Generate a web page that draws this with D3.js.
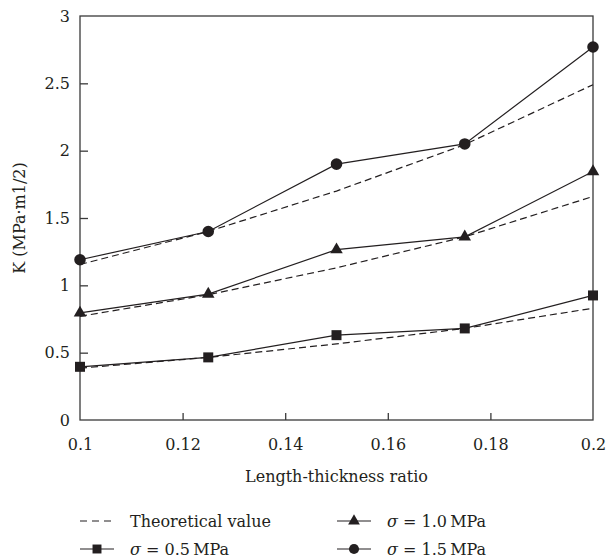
<!DOCTYPE html>
<html>
<head>
<meta charset="utf-8">
<script src="https://cdn.jsdelivr.net/npm/d3@7"></script>
<style>
  body { margin: 0; background: #fff; }
</style>
</head>
<body>
<div id="chart"></div>
<script>
// data
var ratios = [0.1, 0.125, 0.15, 0.175, 0.2];
var theo05 = [0.385, 0.465, 0.565, 0.68, 0.83];
var theo10 = [0.77, 0.93, 1.13, 1.36, 1.66];
var theo15 = [1.155, 1.40, 1.70, 2.045, 2.49];
var sig05 = [0.395, 0.465, 0.63, 0.68, 0.925];
var sig10 = [0.795, 0.935, 1.265, 1.36, 1.845];
var sig15 = [1.19, 1.40, 1.90, 2.05, 2.77];
var xTicks = [0.1, 0.12, 0.14, 0.16, 0.18, 0.2];
var yTicks = [0, 0.5, 1, 1.5, 2, 2.5, 3];

var W = 607, H = 559;
var margin = {top: 16, right: 14, bottom: 139, left: 80};
var width = W - margin.left - margin.right,
    height = H - margin.top - margin.bottom;
var ink = "#231f20";
var serif = "DejaVu Serif";

var svg = d3.select("#chart").append("svg")
    .attr("width", W)
    .attr("height", H)
    .style("font-family", serif);
var g = svg.append("g")
    .attr("transform", "translate(" + margin.left + "," + margin.top + ")");

var x = d3.scaleLinear().domain([0.1, 0.2]).range([0, width]);
var y = d3.scaleLinear().domain([0, 3]).range([height, 0]);

// frame
g.append("rect")
    .attr("width", width).attr("height", height)
    .attr("fill", "none").attr("stroke", "#3a3a3a").attr("stroke-width", 1.3);

// axes, ticks pointing inward
var xAxis = g.append("g")
    .attr("transform", "translate(0," + height + ")")
    .call(d3.axisBottom(x).tickValues(xTicks).tickSize(-7).tickPadding(19)
        .tickFormat(function(d) { return +d.toFixed(2); }));
var yAxis = g.append("g")
    .call(d3.axisLeft(y).tickValues(yTicks).tickSize(-8).tickPadding(10)
        .tickFormat(function(d) { return d; }));
[xAxis, yAxis].forEach(function(a) {
    a.attr("font-family", null).attr("font-size", 16);
    a.select(".domain").remove();
    a.selectAll("line").attr("stroke", "#3a3a3a").attr("stroke-width", 1.3);
    a.selectAll("text").attr("fill", ink).style("font-family", serif);
});
xAxis.selectAll(".tick line").filter(function(d) { return d == 0.1 || d == 0.2; }).remove();
yAxis.selectAll(".tick line").filter(function(d) { return d == 0 || d == 3; }).remove();

// axis titles
g.append("text")
    .attr("x", width / 2).attr("y", height + 62)
    .attr("text-anchor", "middle")
    .attr("font-size", 16).attr("fill", ink)
    .text("Length-thickness ratio");
g.append("text")
    .attr("transform", "rotate(-90)")
    .attr("x", -height / 2).attr("y", -55)
    .attr("text-anchor", "middle")
    .attr("font-size", 16).attr("fill", ink)
    .text("K (MPa\u00b7m1/2)");

var line = d3.line()
    .x(function(d, i) { return x(ratios[i]); })
    .y(function(d) { return y(d); });

// theoretical dashed lines
[theo05, theo10, theo15].forEach(function(s) {
    g.append("path").datum(s)
        .attr("d", line)
        .attr("fill", "none").attr("stroke", ink)
        .attr("stroke-width", 1.2).attr("stroke-dasharray", "7,4");
});

// measured lines
var series = [
    {vals: sig05, shape: d3.symbolSquare, size: 100},
    {vals: sig10, shape: d3.symbolTriangle, size: 68},
    {vals: sig15, shape: d3.symbolCircle, size: 105}
];
series.forEach(function(s) {
    g.append("path").datum(s.vals)
        .attr("d", line)
        .attr("fill", "none").attr("stroke", ink).attr("stroke-width", 1.2);
    g.selectAll(null)
        .data(s.vals)
        .enter().append("path")
        .attr("transform", function(d, i) { return "translate(" + x(ratios[i]) + "," + y(d) + ")"; })
        .attr("d", d3.symbol().type(s.shape).size(s.size))
        .attr("fill", ink);
});

// legend
var legend = [
    {label: "Theoretical value", dash: true, x: 80, y: 521},
    {label: "\u03c3 = 0.5\u2009MPa", shape: d3.symbolSquare, size: 80, x: 80, y: 549},
    {label: "\u03c3 = 1.0\u2009MPa", shape: d3.symbolTriangle, size: 60, x: 337, y: 521},
    {label: "\u03c3 = 1.5\u2009MPa", shape: d3.symbolCircle, size: 80, x: 337, y: 549}
];
legend.forEach(function(l) {
    var lg = svg.append("g").attr("transform", "translate(" + l.x + "," + l.y + ")");
    lg.append("line")
        .attr("x1", 0).attr("x2", 34).attr("y1", 0).attr("y2", 0)
        .attr("stroke", ink).attr("stroke-width", 1.2)
        .attr("stroke-dasharray", l.dash ? "7,5" : null);
    if (l.shape) {
        lg.append("path")
            .attr("transform", "translate(17,0)")
            .attr("d", d3.symbol().type(l.shape).size(l.size))
            .attr("fill", ink);
    }
    var t = lg.append("text")
        .attr("x", 50).attr("y", 6)
        .attr("font-size", 16).attr("fill", ink);
    if (l.dash) {
        t.text(l.label);
    } else {
        t.append("tspan").attr("font-style", "italic").text("\u03c3");
        t.append("tspan").text(l.label.slice(1));
    }
});
</script>
</body>
</html>
